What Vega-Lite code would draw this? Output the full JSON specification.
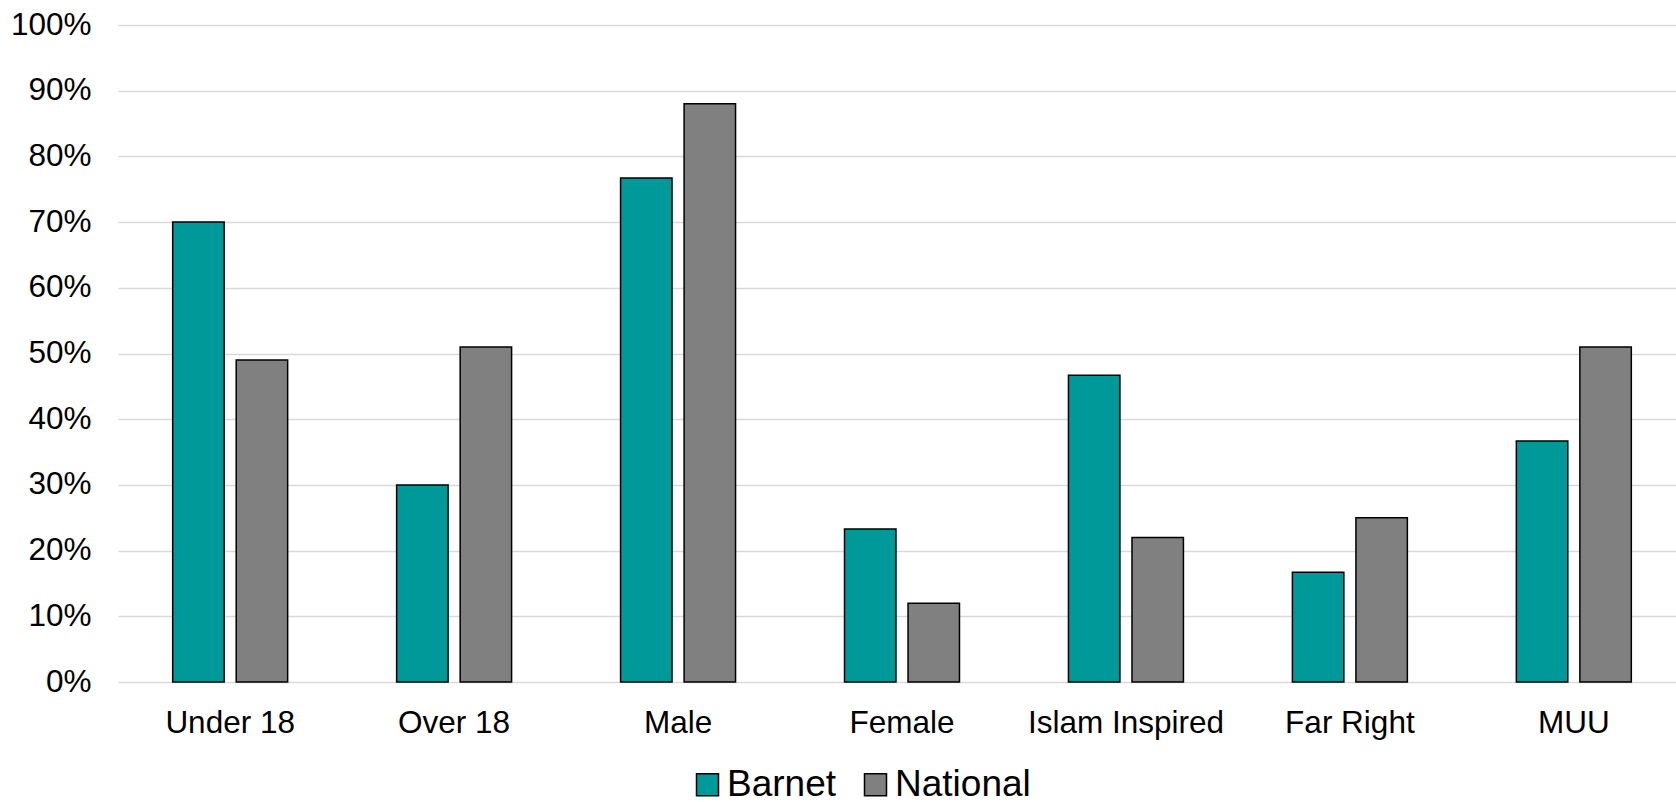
{
  "$schema": "https://vega.github.io/schema/vega-lite/v6.json",
  "autosize": {"type": "none"},
  "padding": {"left": 118, "top": 25, "right": 0, "bottom": 120},
  "width": 1558,
  "height": 657,
  "background": "white",
  "config": {
    "view": {"stroke": null},
    "font": "Liberation Sans",
    "axis": {"labelFont": "Liberation Sans", "labelColor": "#000000", "domain": false, "ticks": false, "title": null},
    "legend": {"labelFont": "Liberation Sans", "labelColor": "#000000"}
  },
  "data": {
    "values": [
      {"category": "Under 18", "series": "Barnet", "value": 0.70},
      {"category": "Under 18", "series": "National", "value": 0.49},
      {"category": "Over 18", "series": "Barnet", "value": 0.30},
      {"category": "Over 18", "series": "National", "value": 0.51},
      {"category": "Male", "series": "Barnet", "value": 0.767},
      {"category": "Male", "series": "National", "value": 0.88},
      {"category": "Female", "series": "Barnet", "value": 0.233},
      {"category": "Female", "series": "National", "value": 0.12},
      {"category": "Islam Inspired", "series": "Barnet", "value": 0.467},
      {"category": "Islam Inspired", "series": "National", "value": 0.22},
      {"category": "Far Right", "series": "Barnet", "value": 0.167},
      {"category": "Far Right", "series": "National", "value": 0.25},
      {"category": "MUU", "series": "Barnet", "value": 0.367},
      {"category": "MUU", "series": "National", "value": 0.51}
    ]
  },
  "mark": {"type": "bar", "stroke": "#000000", "strokeWidth": 1.5},
  "encoding": {
    "x": {
      "field": "category",
      "type": "nominal",
      "sort": ["Under 18", "Over 18", "Male", "Female", "Islam Inspired", "Far Right", "MUU"],
      "scale": {"range": [0, 1568], "paddingInner": 0.4866, "paddingOuter": 0.2442},
      "axis": {"labelAngle": 0, "labelFontSize": 31.5, "labelPadding": 50, "labelBaseline": "alphabetic", "labelLimit": 0, "grid": false}
    },
    "xOffset": {
      "field": "series",
      "type": "nominal",
      "scale": {"paddingInner": 0.19, "paddingOuter": 0}
    },
    "y": {
      "field": "value",
      "type": "quantitative",
      "scale": {"domain": [0, 1], "nice": false},
      "axis": {
        "values": [0, 0.1, 0.2, 0.3, 0.4, 0.5, 0.6, 0.7, 0.8, 0.9, 1.0],
        "format": ".0%",
        "labelFontSize": 31.5,
        "labelPadding": 27,
        "grid": true,
        "gridColor": "#d9d9d9",
        "gridWidth": 1.5,
        "labelBaseline": "middle"
      }
    },
    "color": {
      "field": "series",
      "type": "nominal",
      "scale": {"domain": ["Barnet", "National"], "range": ["#009999", "#808080"]},
      "legend": {
        "title": null,
        "orient": "none",
        "legendX": 571,
        "legendY": 741,
        "direction": "horizontal",
        "symbolType": "square",
        "symbolSize": 484,
        "symbolStrokeColor": "#000000",
        "symbolStrokeWidth": 1.5,
        "labelFontSize": 37,
        "labelOffset": 1,
        "columnPadding": 20,
        "padding": 0
      }
    }
  }
}
